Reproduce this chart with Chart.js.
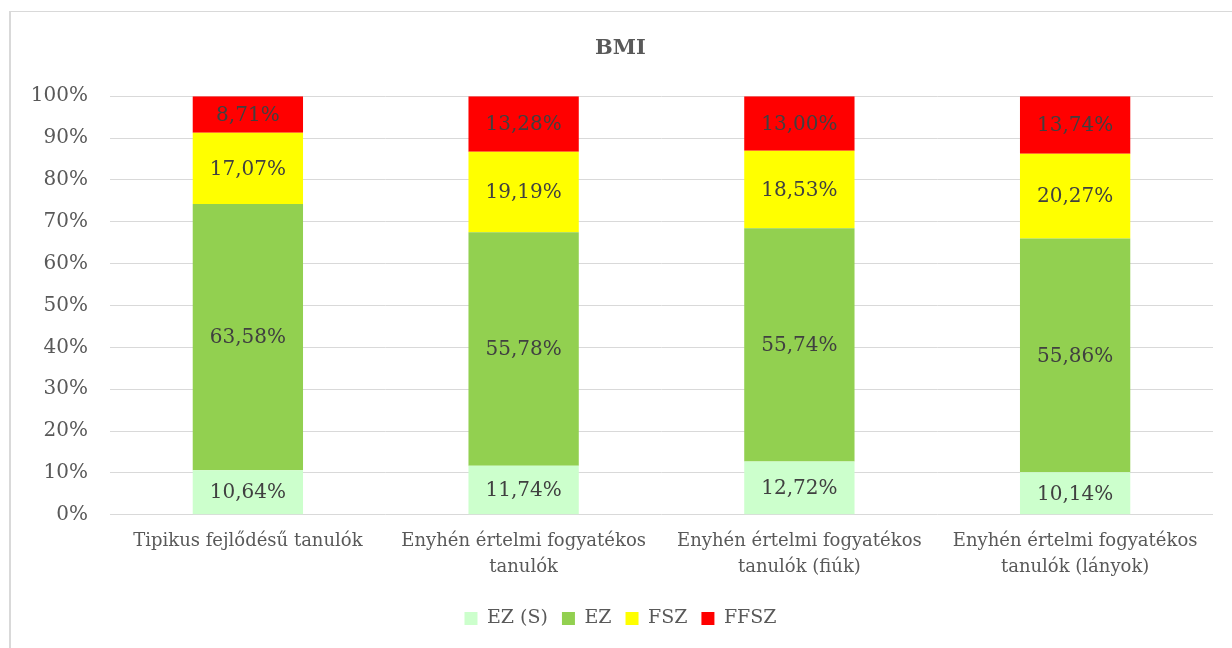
<!DOCTYPE html>
<html>
<head>
<meta charset="utf-8">
<script src="https://cdn.jsdelivr.net/npm/chart.js@4.4.1/dist/chart.umd.min.js"></script>
<style>
html,body{margin:0;padding:0;background:#fff;overflow:hidden;}
canvas{display:block;}
</style>
</head>
<body>
<canvas id="c" width="1232" height="648"></canvas>
<script>
const categories = [
  ["Tipikus fejlődésű tanulók"],
  ["Enyhén értelmi fogyatékos", "tanulók"],
  ["Enyhén értelmi fogyatékos", "tanulók (fiúk)"],
  ["Enyhén értelmi fogyatékos", "tanulók (lányok)"]
];
const seriesNames = ["EZ (S)", "EZ", "FSZ", "FFSZ"];
const ezS  = [10.64, 11.74, 12.72, 10.14];
const ez   = [63.58, 55.78, 55.74, 55.86];
const fsz  = [17.07, 19.19, 18.53, 20.27];
const ffsz = [8.71, 13.28, 13.00, 13.74];
const yTicks = [0, 10, 20, 30, 40, 50, 60, 70, 80, 90, 100];

const colors = ["#ccffcc", "#92d050", "#ffff00", "#ff0000"];
const FONT = "'DejaVu Serif', serif";

const fmt = v => v.toFixed(2).replace('.', ',') + '%';

const frame = {
  id: 'frame',
  beforeDraw(chart) {
    const ctx = chart.ctx;
    ctx.save();
    ctx.fillStyle = '#fff';
    ctx.fillRect(0, 0, chart.width, chart.height);
    ctx.fillStyle = '#d9d9d9';
    ctx.fillRect(9, 11, chart.width - 9, 1);
    ctx.fillRect(9, 11, 2, chart.height - 11);
    ctx.restore();
  }
};

const labels = {
  id: 'barLabels',
  afterDatasetsDraw(chart) {
    const ctx = chart.ctx;
    ctx.save();
    ctx.font = "20px " + FONT;
    ctx.fillStyle = '#404040';
    ctx.textAlign = 'center';
    ctx.textBaseline = 'middle';
    chart.data.datasets.forEach((ds, i) => {
      const meta = chart.getDatasetMeta(i);
      meta.data.forEach((el, j) => {
        const y = (el.y + el.base) / 2;
        ctx.fillText(fmt(ds.data[j]), el.x, y + 1);
      });
    });
    ctx.restore();
  }
};

const seriesData = [ezS, ez, fsz, ffsz];

new Chart(document.getElementById('c'), {
  type: 'bar',
  data: {
    labels: categories,
    datasets: seriesNames.map((n, i) => ({
      label: n,
      data: seriesData[i],
      backgroundColor: colors[i],
      borderWidth: 0,
      barPercentage: 1,
      categoryPercentage: 0.4
    }))
  },
  options: {
    responsive: false,
    animation: false,
    devicePixelRatio: 1,
    layout: { padding: { left: 28, right: 19, top: 20, bottom: 10 } },
    plugins: {
      title: {
        display: true,
        text: 'BMI',
        color: '#595959',
        font: { family: FONT, size: 21, weight: 'bold' },
        padding: { top: 16, bottom: 35 }
      },
      legend: {
        position: 'bottom',
        labels: {
          boxWidth: 13,
          boxHeight: 13,
          padding: 14,
          color: '#595959',
          font: { family: FONT, size: 19 }
        }
      },
      tooltip: { enabled: false }
    },
    scales: {
      x: {
        stacked: true,
        grid: { display: false },
        border: { display: false },
        afterFit(s) { s.height += 10; },
        ticks: {
          color: '#595959',
          padding: 5,
          maxRotation: 0,
          autoSkip: false,
          font: { family: FONT, size: 18, lineHeight: 1.45 }
        }
      },
      y: {
        stacked: true,
        min: 0,
        max: 100,
        afterFit(s) { s.width = 82; },
        afterBuildTicks(s) { s.ticks = yTicks.map(v => ({ value: v })); },
        grid: { color: '#d9d9d9', lineWidth: 1, drawTicks: false },
        border: { display: false },
        ticks: {
          color: '#595959',
          padding: 22,
          font: { family: FONT, size: 20 },
          callback: v => v + '%'
        }
      }
    }
  },
  plugins: [frame, labels]
});
</script>
</body>
</html>
